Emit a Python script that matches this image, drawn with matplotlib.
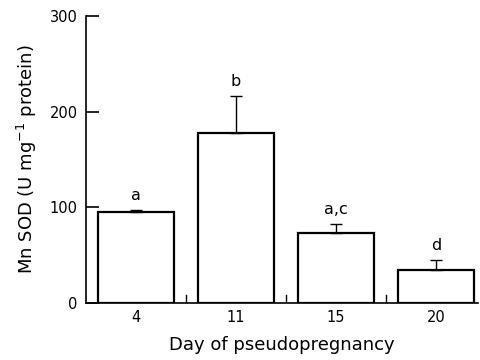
import matplotlib
matplotlib.use("Agg")
import matplotlib.pyplot as plt
import numpy as np

days = ["4", "11", "15", "20"]
mn_sod = [95, 178, 73, 35]
sem = [2, 38, 10, 10]
letters = ["a", "b", "a,c", "d"]

fig = plt.figure(figsize=(4.81, 3.6), dpi=100)
ax = fig.add_axes([0.179, 0.158, 0.815, 0.798])

x = np.arange(len(days))
ax.bar(x, mn_sod, width=0.76, color="white", edgecolor="black", linewidth=1.6, zorder=2)
ax.errorbar(x, mn_sod, yerr=[np.zeros(len(sem)), sem], fmt="none",
            ecolor="black", elinewidth=1.0, capsize=4, capthick=1.0, zorder=3)

# significance letters above each error bar
for xi, m, s, lab in zip(x, mn_sod, sem, letters):
    ax.annotate(lab, xy=(xi, m + s), xytext=(0, 5), textcoords="offset points",
                ha="center", va="bottom", fontsize=11.5)

# short separators between the bars
for xs in x[:-1] + 0.5:
    ax.plot([xs, xs], [0, 8], color="black", lw=1.0, zorder=1)

ax.set_xlim(-0.5, 3.42)
ax.set_ylim(0, 300)
ax.set_yticks([0, 100, 200, 300])
ax.set_xticks(x)
ax.set_xticklabels(days)
ax.tick_params(axis="y", direction="in", length=9, width=1.2, labelsize=10.5, pad=6)
ax.tick_params(axis="x", length=0, labelsize=10.5, pad=5)

ax.spines["top"].set_visible(False)
ax.spines["right"].set_visible(False)
ax.spines["left"].set_linewidth(1.2)
ax.spines["bottom"].set_linewidth(1.2)

ax.set_xlabel("Day of pseudopregnancy", fontsize=13, labelpad=8)
ax.set_ylabel("Mn SOD (U mg$^{-1}$ protein)", fontsize=13, labelpad=8)

fig.savefig("out.png", dpi=100)
